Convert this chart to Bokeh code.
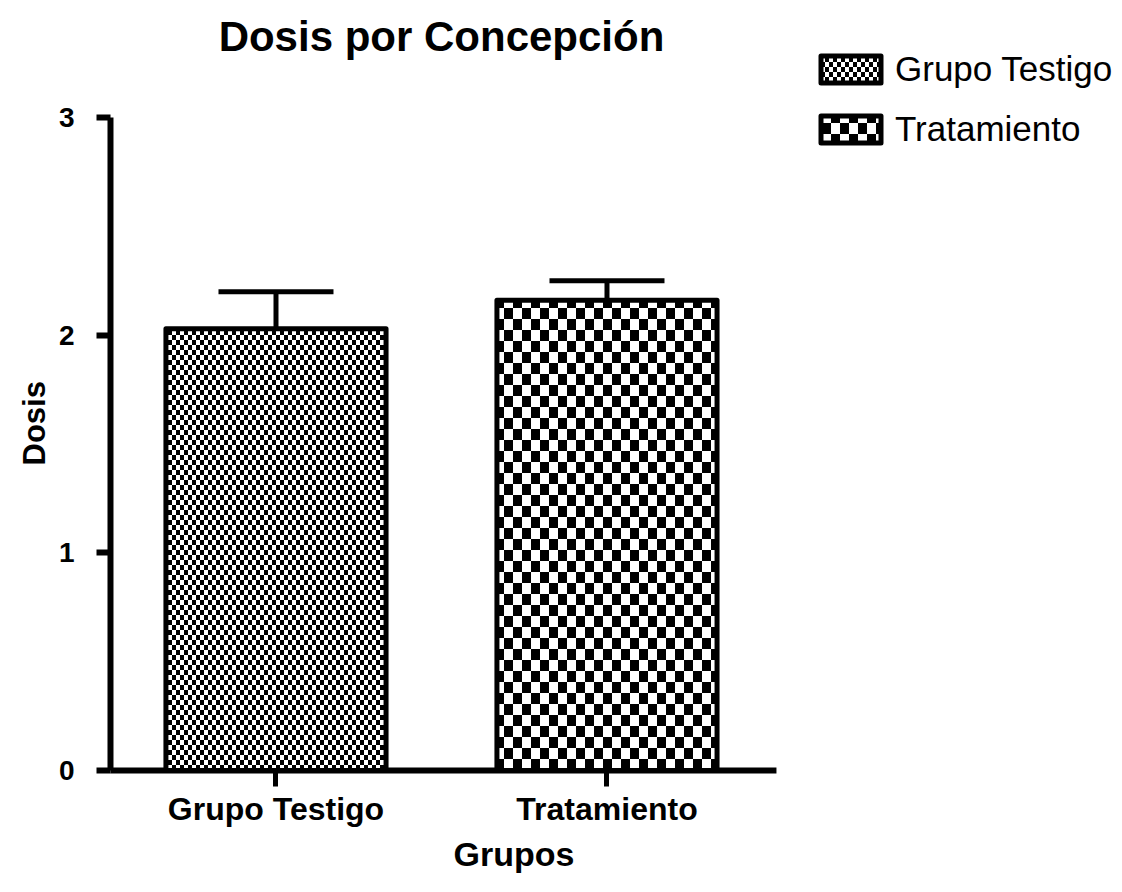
import base64
import struct
import zlib

from bokeh.embed import file_html
from bokeh.models import (ColumnDataSource, FixedTicker, ImageURLTexture,
                          Label, Range1d, TeeHead, Title, Whisker)
from bokeh.plotting import figure
from bokeh.resources import INLINE

# ---------------- data ----------------
title_text = "Dosis por Concepción"
categories = ["Grupo Testigo", "Tratamiento"]
means = [2.03, 2.16]
sem = [0.17, 0.09]
y_ticks = [0, 1, 2, 3]
x_label = "Grupos"
y_label = "Dosis"

FONT = "Liberation Sans"


def checker_url(cw, ch):
    """PNG tile of a black/white checkerboard (cw x ch squares)."""
    w, h = 2 * cw, 2 * ch
    raw = bytearray()
    for y in range(h):
        raw.append(0)
        for x in range(w):
            black = ((x // cw) + (y // ch)) % 2 == 0
            v = 0 if black else 255
            raw += bytes([v, v, v, 255])

    def chunk(t, d):
        return (struct.pack(">I", len(d)) + t + d +
                struct.pack(">I", zlib.crc32(t + d) & 0xFFFFFFFF))

    png = (b"\x89PNG\r\n\x1a\n" +
           chunk(b"IHDR", struct.pack(">IIBBBBB", w, h, 8, 6, 0, 0, 0)) +
           chunk(b"IDAT", zlib.compress(bytes(raw))) +
           chunk(b"IEND", b""))
    return "data:image/png;base64," + base64.b64encode(png).decode()


xs = [i + 0.5 for i in range(len(categories))]
upper = [m + e for m, e in zip(means, sem)]
patterns = ["fine", "coarse"]

src = ColumnDataSource(dict(x=xs, cat=categories, mean=means, upper=upper, pat=patterns))

textures = {
    "fine": ImageURLTexture(url=checker_url(4, 5), repetition="repeat"),
    "coarse": ImageURLTexture(url=checker_url(9, 11), repetition="repeat"),
}

# axis extent along x (in category units) and y
X_AXIS_END = len(categories) + 0.012
Y_AXIS_END = y_ticks[-1]

# ---------------- main plot ----------------
p = figure(width=1120, height=890,
           x_range=Range1d(-0.0181, 3.0514), y_range=Range1d(-0.0276, 3.5375),
           output_backend="svg", toolbar_location=None,
           min_border_left=104, min_border_right=0,
           min_border_top=0, min_border_bottom=114)
p.outline_line_color = None
p.xgrid.visible = False
p.ygrid.visible = False
p.background_fill_color = "white"
p.border_fill_color = "white"

# axis lines
p.segment(x0=[0], y0=[0], x1=[0], y1=[Y_AXIS_END], line_color="black", line_width=6)
p.segment(x0=[0], y0=[0], x1=[X_AXIS_END], y1=[0], line_color="black", line_width=6)

whisk = Whisker(source=src, base="x", lower="mean", upper="upper",
                dimension="height", line_color="black", line_width=5,
                upper_head=TeeHead(size=115, line_color="black", line_width=5),
                lower_head=None)
p.add_layout(whisk)

p.vbar(x="x", top="mean", bottom=0, width=0.665, source=src,
       fill_color="white", line_color="black", line_width=5, line_join="round",
       hatch_pattern="pat", hatch_extra=textures, legend_field="cat")

# title (drawn as text above the axes)
p.add_layout(Label(x=sum(xs) / len(xs), y=Y_AXIS_END + 0.372, text=title_text,
                   text_align="center", text_baseline="alphabetic",
                   text_font=FONT, text_font_size="42px",
                   text_font_style="bold", text_color="black"))

# y axis
ya = p.yaxis[0]
ya.ticker = FixedTicker(ticks=y_ticks)
ya.major_label_text_font = FONT
ya.major_label_text_font_size = "28px"
ya.major_label_text_font_style = "bold"
ya.major_label_text_color = "black"
ya.major_label_standoff = 22
ya.axis_line_color = None
ya.major_tick_line_width = 6
ya.major_tick_line_color = "black"
ya.major_tick_out = 8
ya.major_tick_in = 6
ya.minor_tick_line_color = None

p.add_layout(Title(text=y_label, align="left", offset=311, standoff=8,
                   text_font=FONT, text_font_size="31px",
                   text_font_style="bold", text_color="black"), "left")

# x axis
xa = p.xaxis[0]
xa.ticker = FixedTicker(ticks=xs)
xa.major_label_overrides = {x: c for x, c in zip(xs, categories)}
xa.major_label_text_font = FONT
xa.major_label_text_font_size = "32px"
xa.major_label_text_font_style = "bold"
xa.major_label_text_color = "black"
xa.major_label_standoff = 4
xa.axis_line_color = None
xa.major_tick_line_width = 5
xa.major_tick_line_color = "black"
xa.major_tick_out = 10
xa.major_tick_in = 6
xa.minor_tick_line_color = None

p.add_layout(Title(text=x_label, align="left", offset=349, standoff=6,
                   text_font=FONT, text_font_size="34px",
                   text_font_style="bold", text_color="black"), "below")

# legend (top right, outside the axes area)
lg = p.legend[0]
lg.location = (709, 627)
lg.border_line_color = None
lg.background_fill_alpha = 0
lg.padding = 0
lg.margin = 0
lg.spacing = 20
lg.glyph_width = 75
lg.glyph_height = 34
lg.label_height = 40
lg.label_standoff = 7
lg.label_text_font = FONT
lg.label_text_font_size = "35px"
lg.label_text_color = "black"

open("out.html", "w").write(file_html(p, INLINE))
